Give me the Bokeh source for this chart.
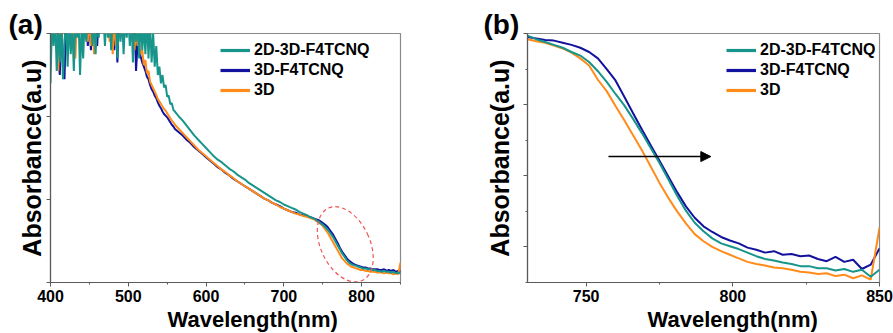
from bokeh.plotting import figure
from bokeh.layouts import row
from bokeh.models import (Range1d, SingleIntervalTicker, Legend, LegendItem, Title,
                          Arrow, NormalHead, CustomJSTickFormatter)
from bokeh.embed import file_html
from bokeh.resources import INLINE

# ---------------- data ----------------
SERIES = ["2D-3D-F4TCNQ", "3D-F4TCNQ", "3D"]
COLORS = {"2D-3D-F4TCNQ": "#17958a", "3D-F4TCNQ": "#12129e", "3D": "#ff8c1a"}

# panel (a) wavelength grid
a_x = (list(range(400, 562, 2)) + list(range(565, 731, 5)) + list(range(733, 851, 3)))

a_teal = [
    # 400-560 (2 nm)
    2.40, 3.2, 2.85, 3.2, 2.55, 3.1, 2.65, 3.2, 2.45, 2.9, 3.2, 2.6, 3.2, 2.75, 3.1, 2.55,
    3.2, 2.95, 3.2, 2.5, 3.1, 2.7, 3.2, 2.9, 3.2, 3.0, 3.2, 2.85, 3.2, 2.75, 3.2, 2.95,
    3.2, 3.05, 3.2, 2.85, 3.2, 2.95, 3.2, 2.8, 3.2, 3.0, 3.2, 2.7, 3.2, 2.9, 3.2, 2.75,
    3.2, 2.95, 3.2, 2.85, 3.2, 2.65, 3.2, 2.9, 3.2, 2.7, 3.2, 2.8, 3.1, 2.75, 3.2, 2.7,
    3.15, 2.65, 3.0, 2.6, 2.85, 2.5, 2.6, 2.4, 2.5, 2.35, 2.38, 2.24, 2.25, 2.15, 2.16,
    2.08, 2.06,
    # 565-730 (5 nm)
    2.00, 1.95, 1.89, 1.83, 1.77, 1.72, 1.67, 1.62, 1.57, 1.52, 1.48, 1.45, 1.41, 1.37,
    1.34, 1.30, 1.27, 1.24, 1.20, 1.17, 1.14, 1.11, 1.08, 1.05, 1.02, 0.99, 0.97, 0.94,
    0.92, 0.90, 0.88, 0.85, 0.83, 0.81,
    # 733-850 (3 nm)
    0.79, 0.78, 0.77, 0.75, 0.73, 0.71, 0.69, 0.66, 0.63, 0.59, 0.55, 0.50, 0.45, 0.40,
    0.35, 0.31, 0.27, 0.24, 0.22, 0.21, 0.20, 0.19, 0.18, 0.17, 0.17, 0.16, 0.16, 0.15,
    0.15, 0.14, 0.14, 0.13, 0.14, 0.13, 0.13, 0.12, 0.13, 0.11, 0.12, 0.11,
]

a_blue = [
    3.2, 3.2, 3.2, 3.2, 3.2, 2.7, 2.5, 3.2, 2.6, 2.45, 3.2, 3.2, 3.2, 3.2, 3.2, 3.2,
    3.2, 3.2, 3.2, 3.2, 3.2, 3.2, 3.2, 3.2, 2.85, 3.2, 2.8, 3.2, 2.95, 3.2, 2.85, 3.2,
    3.2, 3.2, 3.2, 3.2, 3.2, 3.2, 3.2, 3.2, 3.2, 2.8, 3.2, 2.65, 3.2, 3.2, 3.2, 3.2,
    3.2, 3.2, 3.2, 3.2, 3.2, 3.0, 3.2, 2.55, 2.9, 2.78, 2.72, 2.65, 2.6, 2.55, 2.48, 2.45,
    2.38, 2.33, 2.30, 2.25, 2.22, 2.17, 2.13, 2.10, 2.06, 2.03, 2.01, 1.99, 1.96, 1.93,
    1.90, 1.88, 1.85,
    1.81, 1.77, 1.72, 1.68, 1.63, 1.59, 1.55, 1.51, 1.47, 1.43, 1.39, 1.36, 1.32, 1.29,
    1.25, 1.22, 1.19, 1.16, 1.13, 1.10, 1.07, 1.04, 1.01, 0.99, 0.96, 0.94, 0.92, 0.89,
    0.87, 0.85, 0.84, 0.82, 0.81, 0.80,
    0.79, 0.78, 0.77, 0.76, 0.75, 0.73, 0.71, 0.69, 0.66, 0.62, 0.58, 0.53, 0.48, 0.42,
    0.37, 0.33, 0.29, 0.26, 0.24, 0.22, 0.21, 0.20, 0.19, 0.18, 0.18, 0.17, 0.17, 0.16,
    0.16, 0.16, 0.15, 0.15, 0.16, 0.14, 0.15, 0.14, 0.15, 0.13, 0.14, 0.13,
]

a_orange = [
    3.2, 3.2, 3.2, 3.2, 2.9, 2.55, 3.2, 2.8, 3.2, 3.2, 3.2, 3.2, 3.2, 3.2, 3.2, 2.95,
    2.7, 3.2, 3.2, 3.2, 3.2, 3.2, 3.2, 3.2, 2.9, 3.2, 2.85, 3.2, 2.75, 3.2, 3.2, 3.2,
    3.2, 3.2, 3.2, 3.2, 3.2, 3.2, 2.9, 3.2, 2.75, 3.2, 2.85, 3.2, 3.2, 3.2, 3.2, 3.2,
    3.2, 3.2, 3.2, 3.2, 3.2, 2.95, 2.8, 3.05, 2.85, 2.9, 2.75, 2.8, 2.62, 2.68, 2.52, 2.55,
    2.42, 2.38, 2.34, 2.30, 2.26, 2.21, 2.18, 2.15, 2.12, 2.09, 2.07, 2.04, 2.01, 1.98,
    1.95, 1.93, 1.90,
    1.85, 1.80, 1.75, 1.70, 1.65, 1.60, 1.56, 1.52, 1.48, 1.44, 1.40, 1.36, 1.33, 1.29,
    1.26, 1.22, 1.19, 1.16, 1.13, 1.10, 1.07, 1.04, 1.01, 0.99, 0.96, 0.94, 0.91, 0.89,
    0.87, 0.85, 0.83, 0.82, 0.80, 0.79,
    0.78, 0.77, 0.76, 0.74, 0.72, 0.70, 0.67, 0.63, 0.59, 0.54, 0.49, 0.44, 0.39, 0.34,
    0.29, 0.26, 0.23, 0.21, 0.19, 0.18, 0.17, 0.16, 0.15, 0.15, 0.14, 0.14, 0.13, 0.13,
    0.13, 0.12, 0.12, 0.12, 0.11, 0.12, 0.11, 0.11, 0.10, 0.11, 0.10, 0.24,
]

# panel (b) wavelength grid (3 nm)
b_x = list(range(730, 851, 3))

b_teal = [
    2.97, 2.92, 2.88, 2.84, 2.80, 2.74, 2.69, 2.60, 2.47, 2.32, 2.15, 1.99, 1.80, 1.60,
    1.39, 1.18, 0.95, 0.72, 0.51, 0.34, 0.22, 0.12, 0.05, 0.01, -0.03, -0.08, -0.13,
    -0.17, -0.19, -0.22, -0.24, -0.27, -0.27, -0.30, -0.30, -0.33, -0.31, -0.35, -0.32,
    -0.42, -0.32,
]
b_blue = [
    2.95, 2.93, 2.91, 2.90, 2.87, 2.84, 2.80, 2.74, 2.65, 2.50, 2.34, 2.11, 1.88, 1.65,
    1.43, 1.21, 0.99, 0.77, 0.57, 0.41, 0.29, 0.21, 0.14, 0.09, 0.05, -0.01, -0.04,
    -0.08, -0.06, -0.11, -0.10, -0.13, -0.12, -0.17, -0.20, -0.14, -0.21, -0.18, -0.31,
    -0.25, -0.02,
]
b_orange = [
    2.92, 2.89, 2.87, 2.83, 2.79, 2.73, 2.65, 2.55, 2.35, 2.19, 1.98, 1.78, 1.57, 1.36,
    1.13, 0.90, 0.69, 0.50, 0.33, 0.18, 0.08, 0.00, -0.06, -0.11, -0.16, -0.21, -0.24,
    -0.26, -0.29, -0.30, -0.32, -0.35, -0.36, -0.38, -0.37, -0.41, -0.39, -0.44, -0.40,
    -0.46, 0.27,
]

# annotation placements (not data)
ELLIPSE = dict(x=779, y=0.46, w=49, h=80, angle=0.44)
ARROW = dict(x0=757.6, x1=792.5, y=1.27)

FONT = "Liberation Sans"


def make_panel(xs, ys_by_name, x_rng, y_rng, x_interval, y_minor, width, border_left,
               border_right, y_label_standoff, xlabel_offset, tag, tag_offset, legend_loc):
    p = figure(width=width, height=333, output_backend="svg", toolbar_location=None,
               x_range=Range1d(*x_rng), y_range=Range1d(*y_rng),
               min_border_left=border_left, min_border_right=border_right,
               min_border_top=33, min_border_bottom=51)
    p.xgrid.visible = False
    p.ygrid.visible = False
    p.outline_line_color = "#8a8a8a"
    p.outline_line_width = 1.2
    p.background_fill_color = "white"
    p.border_fill_color = "white"

    p.xaxis.ticker = SingleIntervalTicker(interval=x_interval, num_minor_ticks=2)
    p.yaxis.ticker = SingleIntervalTicker(interval=1, num_minor_ticks=y_minor)
    for ax in (p.xaxis[0], p.yaxis[0]):
        ax.axis_line_color = "#5a5a5a"
        ax.axis_line_width = 1.2
        ax.major_tick_line_color = "#5a5a5a"
        ax.minor_tick_line_color = "#5a5a5a"
        ax.major_tick_in = 0
        ax.major_tick_out = 4
        ax.minor_tick_in = 0
        ax.minor_tick_out = 2
    p.xaxis.major_label_text_font = FONT
    p.xaxis.major_label_text_font_style = "bold"
    p.xaxis.major_label_text_font_size = "16px"
    p.xaxis.major_label_text_color = "black"
    p.xaxis.major_label_standoff = 3
    # the reference shows no numbers on the absorbance axis
    p.yaxis.formatter = CustomJSTickFormatter(code="return ''")
    p.yaxis.major_label_standoff = 0
    p.yaxis.axis_label = "Absorbance(a.u)"
    p.yaxis.axis_label_text_font = FONT
    p.yaxis.axis_label_text_font_style = "bold"
    p.yaxis.axis_label_text_font_size = "25px"
    p.yaxis.axis_label_text_color = "black"
    p.yaxis.axis_label_standoff = y_label_standoff

    for name in ["3D-F4TCNQ", "3D", "2D-3D-F4TCNQ"]:
        p.line(xs, ys_by_name[name], line_color=COLORS[name], line_width=2)

    # legend proxies: one point placed below the visible range (draws nothing)
    leg_rends = {}
    for name in SERIES:
        leg_rends[name] = p.line([x_rng[0]], [y_rng[0] - 10], line_color=COLORS[name],
                                 line_width=3.2)
    legend = Legend(items=[LegendItem(label=n, renderers=[leg_rends[n]]) for n in SERIES],
                    location=legend_loc, orientation="vertical",
                    glyph_width=30, glyph_height=20, label_height=20, label_standoff=4,
                    spacing=0, padding=0, margin=0,
                    border_line_alpha=0, background_fill_alpha=0,
                    label_text_font=FONT, label_text_font_style="bold",
                    label_text_font_size="16px", label_text_color="black")
    p.add_layout(legend)

    p.add_layout(Title(text="Wavelength(nm)", align="left", offset=xlabel_offset,
                       standoff=1, text_font=FONT, text_font_style="bold",
                       text_font_size="22px", text_color="black"), "below")
    p.add_layout(Title(text=tag, align="left", offset=tag_offset, standoff=-13,
                       vertical_align="bottom", text_font=FONT, text_font_style="bold",
                       text_font_size="28px", text_color="black"), "above")
    return p


p1 = make_panel(a_x, {"2D-3D-F4TCNQ": a_teal, "3D-F4TCNQ": a_blue, "3D": a_orange},
                (400, 850), (0, 3), 100, 0, 478, 50, 78, 1,
                117, "(a)", -42, (170, 182))
p1.ellipse(x=[ELLIPSE["x"]], y=[ELLIPSE["y"]], width=[ELLIPSE["w"]], height=[ELLIPSE["h"]],
           angle=ELLIPSE["angle"], width_units="screen", height_units="screen",
           fill_alpha=0, line_color="#ee5555", line_dash="4 3", line_width=1.2)

p2 = make_panel(b_x, {"2D-3D-F4TCNQ": b_teal, "3D-F4TCNQ": b_blue, "3D": b_orange},
                (730, 850), (-0.5, 3.0), 50, 2, 415, 49, 14, 10,
                120, "(b)", -44, (199, 182))
p2.add_layout(Arrow(end=NormalHead(size=10, fill_color="black", line_color="black"),
                    x_start=ARROW["x0"], y_start=ARROW["y"], x_end=ARROW["x1"],
                    y_end=ARROW["y"], line_color="black", line_width=1.5))

layout = row(p1, p2)
open("out.html", "w").write(file_html(layout, INLINE))
